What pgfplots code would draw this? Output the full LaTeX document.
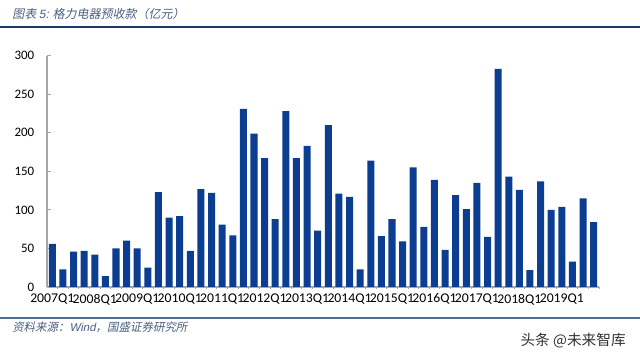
\documentclass[border=0pt]{standalone}
\usepackage{pgfplots}
\pgfplotsset{compat=1.18}
\usepackage{fontspec}
\setmainfont{Carlito}
\newfontfamily\cjk{Noto Sans CJK SC}
\newfontfamily\cjkit[FakeSlant=0.2]{Noto Sans CJK SC}
\newfontfamily\latit[FakeSlant=0.2]{Liberation Sans}
\definecolor{barblue}{HTML}{0B3D91}
\definecolor{titlecol}{HTML}{4A5F80}
\definecolor{linecol}{HTML}{1F3A68}
\definecolor{srcline}{HTML}{4F6E9A}
\begin{document}
\begin{tikzpicture}[x=0.75pt,y=0.75pt]
\path[use as bounding box] (0,0) rectangle (640,356);
\node[anchor=west,text=titlecol,inner sep=0pt,font=\fontsize{9}{10}\selectfont] at (12,342) {\cjkit 图表 {\latit 5:} 格力电器预收款（亿元）};
\draw[linecol,line width=1.5pt] (0,329) -- (640,329);
\draw[srcline,line width=1pt] (0,38) -- (640,38);
\node[anchor=west,text=titlecol,inner sep=0pt,font=\fontsize{8.6}{10}\selectfont] at (12,29) {\cjkit 资料来源：{\latit Wind}，国盛证券研究所};
\node[anchor=east,text=black!80,inner sep=0pt,font=\fontsize{11}{12}\selectfont] at (626,15) {\cjk 头条 @未来智库};
\begin{axis}[
  at={(35.25pt,51.75pt)}, anchor=origin,
  scale only axis, width=414pt, height=173.5pt,
  xmin=0.5, xmax=52.5, ymin=0, ymax=300,
  axis lines=left, axis line style={-, draw=gray!70, line width=0.8pt},
  ytick={0,50,...,300},
  xtick={1,5,...,49},
  xticklabels={2007Q1,2008Q1,2009Q1,2010Q1,2011Q1,2012Q1,2013Q1,2014Q1,2015Q1,2016Q1,2017Q1,2018Q1,2019Q1},
  minor xtick={1.5,2.5,...,52.5},
  x tick style={draw=none},
  minor x tick style={draw=gray!70,line width=0.6pt},
  y tick style={draw=gray!70,line width=0.6pt},
  xtick align=outside,
  ytick align=inside,
  major tick length=3pt,
  minor tick length=1.5pt,
  tick label style={font=\fontsize{9.7}{10}\selectfont, text=black},
  /pgf/number format/assume math mode=true,
  xticklabel style={yshift=-2pt, inner sep=0pt, font=\fontsize{10}{10}\selectfont, xscale=1.03},
  yticklabel style={xshift=-6pt},
  clip=false,
]
\addplot[ybar, bar width=0.66, fill=barblue, draw=none] coordinates {
(1,56)(2,23)(3,46)(4,47)(5,42)(6,14)(7,50)(8,60)(9,50)(10,25)
(11,123)(12,90)(13,92)(14,47)(15,127)(16,122)(17,81)(18,67)(19,231)(20,199)
(21,167)(22,88)(23,228)(24,167)(25,183)(26,73)(27,210)(28,121)(29,117)(30,23)
(31,164)(32,66)(33,88)(34,59)(35,155)(36,78)(37,139)(38,48)(39,119)(40,101)
(41,135)(42,65)(43,283)(44,143)(45,126)(46,22)(47,137)(48,100)(49,104)(50,33)
(51,115)(52,84)
};
\end{axis}
\end{tikzpicture}
\end{document}
